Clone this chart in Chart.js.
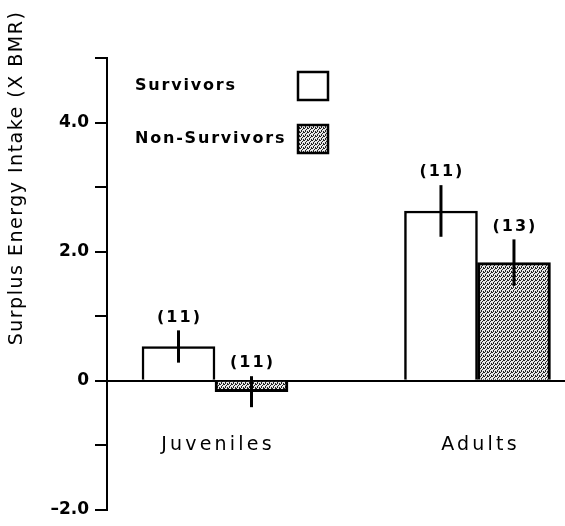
<!DOCTYPE html>
<html>
<head>
<meta charset="utf-8">
<script src="https://cdn.jsdelivr.net/npm/chart.js@4"></script>
<style>
  html, body { margin: 0; padding: 0; background: #fff; }
  #wrap { width: 565px; height: 526px; position: relative; }
</style>
</head>
<body>
<div id="wrap"><canvas id="chart"></canvas></div>
<script>
// Values
const categories = ["Juveniles", "Adults"];
const survivors = [0.53, 2.63];
const survivorsErr = [0.25, 0.4];
const survivorsN = [11, 11];
const nonSurvivors = [-0.17, 1.83];
const nonSurvivorsErr = [0.24, 0.36];
const nonSurvivorsN = [11, 13];
const yTickLabels = { "-2": "\u20132.0", "0": "0", "2": "2.0", "4": "4.0" };

// stippled grey fill for the non-survivors
function stipple() {
  const c = document.createElement("canvas");
  c.width = 4;
  c.height = 4;
  const g = c.getContext("2d");
  g.fillStyle = "#e8e8e8";
  g.fillRect(0, 0, 4, 4);
  g.fillStyle = "#222";
  [[0, 0], [2, 1], [1, 2], [3, 3], [3, 0], [1, 3]].forEach(([x, y]) => g.fillRect(x, y, 1, 1));
  return g.createPattern(c, "repeat");
}

// group centre on the linear x axis
const pos = (i) => 2 * i + 1;

const extras = {
  id: "extras",
  afterDatasetsDraw(chart) {
    const ctx = chart.ctx;
    const y = chart.scales.y;
    chart.data.datasets.forEach((ds, di) => {
      chart.getDatasetMeta(di).data.forEach((bar, i) => {
        const v = ds.data[i].y;
        const e = ds.err[i];
        const top = y.getPixelForValue(v + e);
        const bot = y.getPixelForValue(v - e);
        ctx.save();
        ctx.strokeStyle = "#000";
        ctx.lineWidth = 3;
        ctx.beginPath();
        ctx.moveTo(bar.x, top);
        ctx.lineTo(bar.x, bot);
        ctx.stroke();
        ctx.fillStyle = "#000";
        ctx.font = "bold 16px 'DejaVu Sans'";
        ctx.letterSpacing = "2px";
        ctx.textAlign = "center";
        ctx.textBaseline = "middle";
        ctx.fillText("(" + ds.n[i] + ")", bar.x + 1, top - 13);
        ctx.restore();
      });
    });
  },
  afterDraw(chart) {
    const ctx = chart.ctx;
    const x = chart.scales.x;
    const y = chart.scales.y;
    ctx.save();
    ctx.fillStyle = "#000";

    // category names under the zero line
    ctx.font = "19px 'DejaVu Sans'";
    ctx.letterSpacing = "3.2px";
    ctx.textAlign = "center";
    ctx.textBaseline = "middle";
    categories.forEach((c, i) => {
      ctx.fillText(c, x.getPixelForValue(pos(i)) + 3, y.getPixelForValue(0) + 64);
    });

    // legend
    ctx.font = "bold 16px 'DejaVu Sans'";
    ctx.letterSpacing = "1.8px";
    ctx.textAlign = "left";
    chart.data.datasets.forEach((ds, di) => {
      const cy = 86 + di * 53;
      ctx.fillStyle = "#000";
      ctx.fillText(ds.label, 135, cy);
      ctx.fillStyle = ds.backgroundColor;
      ctx.fillRect(298, cy - 14, 30, 28);
      ctx.lineWidth = 2.5;
      ctx.strokeStyle = "#000";
      ctx.strokeRect(298, cy - 14, 30, 28);
    });

    // y axis title
    ctx.translate(17, 178);
    ctx.rotate(-Math.PI / 2);
    ctx.fillStyle = "#000";
    ctx.font = "19px 'DejaVu Sans'";
    ctx.letterSpacing = "1.5px";
    ctx.textAlign = "center";
    ctx.fillText("Surplus Energy Intake (X BMR)", 0, 0);
    ctx.restore();
  },
};

document.addEventListener("DOMContentLoaded", function () {
  Chart.defaults.color = "#000";
  Chart.defaults.font.family = "'DejaVu Sans', sans-serif";

  new Chart(document.getElementById("chart"), {
    type: "bar",
    data: {
      datasets: [
        {
          label: "Survivors",
          data: survivors.map((v, i) => ({ x: pos(i), y: v })),
          err: survivorsErr,
          n: survivorsN,
          backgroundColor: "#fff",
          borderColor: "#000",
          borderWidth: 2.5,
          barThickness: 73,
        },
        {
          label: "Non-Survivors",
          data: nonSurvivors.map((v, i) => ({ x: pos(i), y: v })),
          err: nonSurvivorsErr,
          n: nonSurvivorsN,
          backgroundColor: stipple(),
          borderColor: "#000",
          borderWidth: 3,
          barThickness: 73,
        },
      ],
    },
    options: {
      responsive: true,
      maintainAspectRatio: false,
      animation: false,
      layout: {
        padding: { top: 58, bottom: 14, left: 0, right: 0 },
      },
      plugins: {
        legend: { display: false },
        tooltip: { enabled: false },
      },
      scales: {
        x: {
          type: "linear",
          display: false,
          offset: false,
          min: 0.177,
          max: 3.667,
        },
        y: {
          min: -2,
          max: 5,
          afterFit(scale) {
            scale.width = 107;
          },
          border: { display: true, color: "#000", width: 2 },
          grid: {
            color: (c) => (c.tick && c.tick.value === 0 ? "#000" : "rgba(0,0,0,0)"),
            lineWidth: 2,
            tickColor: "#000",
            tickWidth: 2,
            tickLength: 12,
          },
          ticks: {
            stepSize: 1,
            padding: 6,
            font: { size: 17, weight: "bold" },
            callback: (v) => yTickLabels[v] || "",
          },
        },
      },
    },
    plugins: [extras],
  });
});
</script>
</body>
</html>
